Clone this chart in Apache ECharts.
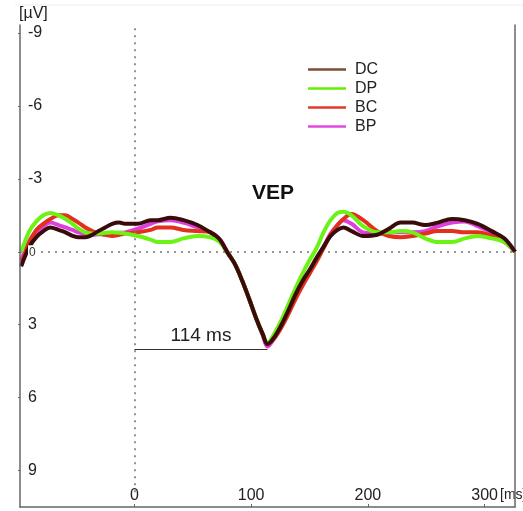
<!DOCTYPE html>
<html>
<head>
<meta charset="utf-8">
<script src="https://cdn.jsdelivr.net/npm/echarts@6/dist/echarts.min.js"></script>
<style>
  html, body { margin: 0; padding: 0; background: #fff; }
  #chart { width: 523px; height: 511px; }
</style>
</head>
<body>
<div id="chart"></div>
<script>
// Time axis (ms) and averaged VEP amplitudes (µV) for the four groups
const times = [-97, -90, -84, -78, -72, -65, -59, -53, -48, -42,
  -36, -31, -25, -19, -13, -8, 3, 14, 20, 31,
  42, 54, 65, 70, 74, 80, 86, 92, 98, 104,
  110, 114, 120, 126, 132, 138, 144, 150, 156, 162,
  168, 174, 179, 186, 196, 208, 218, 228, 238, 249,
  260, 272, 283, 294, 306, 317, 326];

const dcValues = [0.6, -0.2, -0.6, -0.85, -1.0, -0.9, -0.8, -0.65, -0.6, -0.6,
  -0.7, -0.85, -1.0, -1.15, -1.2, -1.15, -1.15, -1.3, -1.3, -1.4,
  -1.3, -1.1, -0.8, -0.65, -0.45, 0.05, 0.5, 1.15, 1.9, 2.7,
  3.4, 3.8, 3.5, 3.0, 2.4, 1.75, 1.2, 0.75, 0.25, -0.2,
  -0.65, -0.9, -1.0, -0.85, -0.65, -0.7, -0.95, -1.2, -1.2, -1.1,
  -1.2, -1.35, -1.3, -1.15, -0.85, -0.55, 0];

const dpValues = [0.0, -0.85, -1.25, -1.5, -1.6, -1.5, -1.35, -1.15, -0.95, -0.8,
  -0.75, -0.75, -0.78, -0.8, -0.78, -0.75, -0.65, -0.5, -0.4, -0.4,
  -0.55, -0.65, -0.6, -0.5, -0.35, 0.05, 0.5, 1.15, 1.9, 2.7,
  3.4, 3.75, 3.35, 2.8, 2.15, 1.5, 0.9, 0.35, -0.15, -0.8,
  -1.3, -1.6, -1.65, -1.5, -1.05, -0.8, -0.8, -0.85, -0.8, -0.55,
  -0.4, -0.4, -0.55, -0.65, -0.55, -0.4, 0];

const bcValues = [0.55, -0.4, -0.9, -1.15, -1.35, -1.5, -1.5, -1.35, -1.2, -1.0,
  -0.85, -0.75, -0.7, -0.65, -0.7, -0.75, -0.8, -0.9, -1.0, -1.0,
  -0.9, -0.85, -0.8, -0.65, -0.45, 0.05, 0.5, 1.15, 1.9, 2.7,
  3.4, 3.8, 3.55, 3.1, 2.55, 1.95, 1.4, 0.9, 0.4, -0.15,
  -0.7, -1.1, -1.35, -1.55, -1.3, -0.85, -0.65, -0.6, -0.65, -0.75,
  -0.85, -0.85, -0.8, -0.8, -0.65, -0.4, 0];

const bpValues = [0.35, -0.45, -0.8, -1.05, -1.2, -1.1, -1.0, -0.9, -0.8, -0.75,
  -0.7, -0.72, -0.75, -0.75, -0.78, -0.8, -0.95, -1.15, -1.25, -1.3,
  -1.2, -1.0, -0.8, -0.65, -0.45, 0.05, 0.5, 1.15, 1.9, 2.7,
  3.45, 3.9, 3.55, 3.05, 2.45, 1.8, 1.25, 0.8, 0.3, -0.2,
  -0.75, -1.1, -1.3, -1.15, -0.8, -0.75, -0.8, -0.8, -0.8, -0.85,
  -1.05, -1.2, -1.25, -1.05, -0.8, -0.5, 0];

// Tick labels
const xTicks = [0, 100, 200, 300];
const yTicks = [-9, -6, -3, 0, 3, 6, 9];

// Latency marker for the negative peak
const peakLatency = 114;
const peakMarkerLevel = 4.0;

const FONT = 'Liberation Sans, Arial, sans-serif';

const groups = [
  { name: 'BP', values: bpValues, color: '#e03fe0', legendColor: '#e04ae0' },
  { name: 'BC', values: bcValues, color: '#e2301c', legendColor: '#e03a2a' },
  { name: 'DP', values: dpValues, color: '#6cf214', legendColor: '#66f000' },
  { name: 'DC', values: dcValues, color: '#3a0b0b', legendColor: '#7d4e31' }
];

const dotted = { color: '#777', width: 1.6, type: [2, 5] };

const series = groups.map((g, idx) => {
  const s = {
    name: g.name,
    type: 'line',
    data: times.map((t, i) => [t, g.values[i]]),
    showSymbol: false,
    smooth: 0.35,
    lineStyle: { color: g.color, width: 4 },
    itemStyle: { color: g.color },
    z: 3 + idx
  };
  if (idx === 0) {
    s.markLine = {
      silent: true,
      symbol: 'none',
      animation: false,
      data: [
        [{ coord: [0, -9.2], lineStyle: dotted, label: { show: false } },
         { coord: [0, 9.9] }],
        [{ coord: [-98, 0], lineStyle: dotted, label: { show: false } },
         { coord: [326, 0] }],
        [{
          coord: [0, peakMarkerLevel],
          lineStyle: { color: '#333', width: 1.2, type: 'solid' },
          label: {
            show: true,
            position: 'insideMiddleTop',
            formatter: peakLatency + ' ms',
            fontFamily: FONT,
            fontSize: 19,
            color: '#222',
            distance: 4
          }
        }, { coord: [peakLatency, peakMarkerLevel] }]
      ]
    };
  }
  return s;
});

const chart = echarts.init(document.getElementById('chart'), null, { renderer: 'canvas' });

chart.setOption({
  animation: false,
  backgroundColor: '#fff',
  title: {
    text: 'VEP',
    left: 247,
    top: 178,
    textStyle: { fontFamily: FONT, fontSize: 21, fontWeight: 'bold', color: '#111' }
  },
  legend: {
    orient: 'vertical',
    left: 303,
    top: 55,
    icon: 'rect',
    itemWidth: 38,
    itemHeight: 2.5,
    itemGap: 0,
    textStyle: { fontFamily: FONT, fontSize: 16, color: '#222', lineHeight: 19, padding: [0, 0, 0, 4] },
    data: ['DC', 'DP', 'BC', 'BP'].map(n => {
      const g = groups.find(x => x.name === n);
      return { name: n, itemStyle: { color: g.legendColor } };
    })
  },
  grid: { left: 20, right: 8, top: 25, bottom: 4 },
  xAxis: {
    type: 'value',
    min: -98,
    max: 326,
    splitLine: { show: false },
    axisLine: { show: true, onZero: false, lineStyle: { color: '#666', width: 1.5 } },
    axisTick: { show: true, inside: true, length: 3, customValues: xTicks, lineStyle: { color: '#666' } },
    axisLabel: {
      inside: true,
      customValues: xTicks,
      margin: 3,
      fontFamily: FONT,
      fontSize: 16,
      color: '#222'
    },
    z: 10
  },
  yAxis: [{
    type: 'value',
    inverse: true,
    min: -9.33,
    max: 10.5,
    position: 'left',
    splitLine: { show: false },
    axisLine: { show: true, onZero: false, lineStyle: { color: '#666', width: 1.5 } },
    axisTick: { show: true, length: 2, customValues: yTicks, lineStyle: { color: '#666' } },
    axisLabel: {
      inside: true,
      customValues: yTicks,
      margin: 8,
      fontFamily: FONT,
      fontSize: 16,
      color: '#222',
      formatter: v => (v === 0 ? '{z|0}' : String(v)),
      rich: {
        z: { fontFamily: FONT, fontSize: 12, color: '#333', backgroundColor: '#fff', padding: [1, 1, 0, 1] }
      }
    },
    z: 10
  }, {
    type: 'value',
    inverse: true,
    min: -9.33,
    max: 10.5,
    position: 'right',
    splitLine: { show: false },
    axisLine: { show: true, onZero: false, lineStyle: { color: '#666', width: 1.5 } },
    axisTick: { show: false },
    axisLabel: { show: false }
  }],
  graphic: [
    {
      type: 'line',
      shape: { x1: 15, y1: 5, x2: 523, y2: 5 },
      style: { stroke: '#eeeeee', lineWidth: 1 },
      silent: true
    },
    {
      type: 'text',
      left: 19,
      top: 6,
      style: { text: '[µV]', fontFamily: FONT, fontSize: 16, fill: '#222' }
    },
    {
      type: 'text',
      left: 500,
      top: 488,
      style: { text: '[ms]', fontFamily: FONT, fontSize: 14, fill: '#222' }
    }
  ],
  series: series
});
</script>
</body>
</html>
